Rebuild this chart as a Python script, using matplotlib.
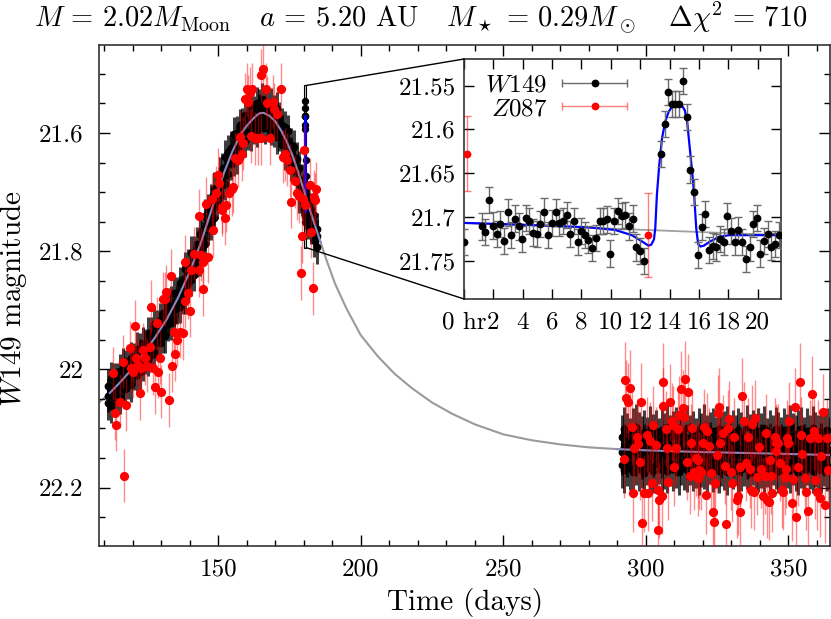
import numpy as np
import matplotlib.pyplot as plt
from matplotlib.patches import Rectangle, ConnectionPatch
from matplotlib.legend_handler import HandlerErrorbar
from matplotlib.container import ErrorbarContainer
from matplotlib.ticker import MultipleLocator

plt.rcParams['font.family'] = 'serif'
plt.rcParams['font.serif'] = ['cmr10']
plt.rcParams['mathtext.fontset'] = 'cm'
plt.rcParams['axes.formatter.use_mathtext'] = True
plt.rcParams['font.size'] = 18

# ---- model curves (main panel, days / W149 mag)
model_t = [108, 112, 116, 120, 124, 128, 132, 136, 140, 144, 148, 152, 155, 158, 160, 162,
           164, 165, 166, 168, 170, 172, 174, 176, 178, 180, 182, 184, 186, 188, 191, 195,
           200, 206, 212, 218, 225, 232, 240, 250, 260, 270, 280, 290, 300, 320, 340, 365]
model_mag = [22.057, 22.040, 22.020, 21.998, 21.972, 21.945, 21.915, 21.878, 21.835, 21.785,
             21.725, 21.668, 21.631, 21.601, 21.588, 21.577, 21.568, 21.566, 21.566, 21.571,
             21.580, 21.595, 21.614, 21.637, 21.665, 21.696, 21.727, 21.757, 21.786, 21.815,
             21.855, 21.897, 21.942, 21.978, 22.008, 22.032, 22.056, 22.075, 22.093, 22.110,
             22.120, 22.127, 22.132, 22.135, 22.137, 22.140, 22.142, 22.145]

# ---- W149 data, main panel (upper / middle / lower part of the dense band, one per day)
w149_rise_start = 111.5
w149_rise_hi = [22.028, 22.015, 22.017, 22.017, 22.002, 21.992, 21.995, 21.993, 21.981, 21.983,
                21.965, 21.967, 21.957, 21.959, 21.940, 21.940, 21.924, 21.928, 21.916, 21.904,
                21.907, 21.891, 21.887, 21.870, 21.871, 21.854, 21.852, 21.830, 21.825, 21.803,
                21.803, 21.787, 21.771, 21.766, 21.740, 21.732, 21.715, 21.694, 21.692, 21.669,
                21.661, 21.640, 21.632, 21.625, 21.601, 21.600, 21.587, 21.585, 21.570, 21.569,
                21.556, 21.565, 21.550, 21.553, 21.543, 21.550, 21.558, 21.551, 21.563, 21.559,
                21.575, 21.586, 21.590, 21.597, 21.620, 21.623, 21.644, 21.659, 21.681, 21.701,
                21.709, 21.730, 21.738, 21.763]
w149_rise_mid = [22.045, 22.034, 22.038, 22.026, 22.024, 22.024, 22.007, 22.008, 21.998, 21.999,
                 21.989, 21.976, 21.979, 21.974, 21.960, 21.951, 21.953, 21.943, 21.930, 21.933,
                 21.916, 21.913, 21.896, 21.898, 21.885, 21.870, 21.868, 21.850, 21.844, 21.824,
                 21.819, 21.810, 21.788, 21.779, 21.760, 21.753, 21.727, 21.721, 21.703, 21.685,
                 21.680, 21.660, 21.652, 21.632, 21.630, 21.614, 21.612, 21.594, 21.593, 21.582,
                 21.585, 21.573, 21.573, 21.562, 21.570, 21.566, 21.576, 21.570, 21.580, 21.580,
                 21.596, 21.597, 21.612, 21.615, 21.635, 21.643, 21.664, 21.680, 21.700, 21.710,
                 21.734, 21.743, 21.763, 21.774]
w149_rise_lo = [22.057, 22.062, 22.047, 22.047, 22.048, 22.031, 22.033, 22.022, 22.027, 22.007,
                22.009, 22.005, 21.991, 21.980, 21.984, 21.975, 21.973, 21.956, 21.955, 21.944,
                21.944, 21.924, 21.922, 21.916, 21.896, 21.894, 21.879, 21.878, 21.856, 21.848,
                21.840, 21.815, 21.814, 21.795, 21.787, 21.762, 21.753, 21.743, 21.718, 21.707,
                21.688, 21.686, 21.670, 21.651, 21.645, 21.641, 21.618, 21.618, 21.613, 21.601,
                21.603, 21.590, 21.595, 21.580, 21.585, 21.591, 21.584, 21.593, 21.595, 21.607,
                21.603, 21.620, 21.634, 21.636, 21.653, 21.657, 21.677, 21.707, 21.713, 21.734,
                21.752, 21.759, 21.781, 21.793]

w149_base_start = 291.5
w149_base_hi = [22.115, 22.101, 22.112, 22.120, 22.104, 22.097, 22.111, 22.117, 22.106, 22.118,
                22.100, 22.113, 22.107, 22.121, 22.103, 22.112, 22.098, 22.115, 22.109, 22.101,
                22.118, 22.106, 22.113, 22.099, 22.116, 22.108, 22.120, 22.103, 22.112, 22.096,
                22.115, 22.110, 22.104, 22.118, 22.101, 22.112, 22.109, 22.100, 22.119, 22.106,
                22.115, 22.103, 22.110, 22.118, 22.098, 22.113, 22.107, 22.116, 22.104, 22.112,
                22.100, 22.121, 22.106, 22.115, 22.101, 22.110, 22.118, 22.103, 22.113, 22.098,
                22.112, 22.116, 22.107, 22.101, 22.119, 22.104, 22.115, 22.100, 22.110, 22.116,
                22.106, 22.113, 22.103, 22.118]
w149_base_mid = [22.140, 22.131, 22.145, 22.136, 22.128, 22.142, 22.134, 22.147, 22.130, 22.139,
                 22.133, 22.144, 22.127, 22.138, 22.146, 22.132, 22.141, 22.129, 22.137, 22.143,
                 22.131, 22.140, 22.135, 22.147, 22.128, 22.136, 22.142, 22.130, 22.145, 22.134,
                 22.139, 22.127, 22.143, 22.136, 22.131, 22.146, 22.133, 22.140, 22.129, 22.144,
                 22.137, 22.131, 22.142, 22.135, 22.147, 22.128, 22.139, 22.134, 22.143, 22.130,
                 22.141, 22.136, 22.129, 22.145, 22.133, 22.140, 22.131, 22.146, 22.135, 22.138,
                 22.128, 22.143, 22.134, 22.141, 22.130, 22.145, 22.136, 22.132, 22.144, 22.137,
                 22.129, 22.142, 22.135, 22.140]
w149_base_lo = [22.162, 22.171, 22.159, 22.166, 22.173, 22.158, 22.168, 22.163, 22.175, 22.157,
                22.167, 22.172, 22.161, 22.156, 22.169, 22.165, 22.172, 22.160, 22.168, 22.163,
                22.174, 22.158, 22.166, 22.170, 22.157, 22.168, 22.162, 22.175, 22.161, 22.165,
                22.171, 22.156, 22.169, 22.163, 22.172, 22.160, 22.166, 22.174, 22.161, 22.165,
                22.158, 22.172, 22.168, 22.160, 22.165, 22.175, 22.157, 22.166, 22.170, 22.162,
                22.171, 22.161, 22.174, 22.158, 22.165, 22.172, 22.160, 22.167, 22.163, 22.171,
                22.157, 22.168, 22.174, 22.162, 22.169, 22.158, 22.165, 22.172, 22.161, 22.166,
                22.171, 22.160, 22.168, 22.165]

# ---- Z087 data, main panel
z087_rise_t = [113.1, 113.7, 114.3, 115.5, 116.6, 117.0, 117.8, 119.0, 119.5, 120.1,
               120.9, 121.3, 121.9, 122.5, 123.0, 123.6, 124.2, 125.1, 126.0, 126.3,
               127.1, 127.9, 128.5, 128.9, 129.5, 130.0, 130.6, 131.2, 131.8, 132.7,
               133.3, 133.8, 134.5, 134.9, 135.4, 136.5, 137.6, 138.2, 138.4, 139.4,
               140.0, 140.5, 141.7, 143.2, 143.4, 144.1, 144.7, 144.8, 145.9, 146.5,
               147.9, 148.2, 149.2, 150.0, 150.4, 151.2, 151.5, 152.3, 152.9, 153.9,
               154.7, 155.3, 155.9, 157.0, 157.6, 158.2, 158.8, 159.4, 160.0, 160.5,
               161.1, 161.5, 162.0, 162.9, 164.0, 165.0, 165.2, 165.8, 166.7, 167.2,
               168.1, 169.1, 169.5, 170.5, 172.2, 172.8, 173.4, 174.0, 175.1, 175.7,
               176.9, 177.7, 178.4, 179.2, 179.3, 179.8, 182.2, 182.7, 183.3, 183.5,
               183.9, 184.2]
z087_rise_mag = [22.007, 22.074, 22.094, 22.055, 21.987, 22.180, 22.060, 21.963, 21.998, 22.004,
                 21.927, 21.981, 21.993, 22.040, 21.998, 21.967, 21.981, 21.994, 21.962, 21.894,
                 21.998, 22.030, 21.922, 22.004, 21.980, 22.038, 21.881, 21.881, 21.869, 22.052,
                 21.842, 21.994, 21.936, 21.974, 21.950, 21.936, 21.939, 21.818, 21.885, 21.870,
                 21.901, 21.831, 21.804, 21.832, 21.740, 21.806, 21.819, 21.864, 21.720, 21.809,
                 21.712, 21.764, 21.701, 21.671, 21.684, 21.730, 21.725, 21.744, 21.722, 21.702,
                 21.695, 21.691, 21.643, 21.646, 21.607, 21.636, 21.617, 21.543, 21.526, 21.547,
                 21.533, 21.605, 21.526, 21.609, 21.609, 21.609, 21.502, 21.492, 21.526, 21.549,
                 21.609, 21.547, 21.560, 21.567, 21.526, 21.640, 21.636, 21.645, 21.663, 21.716,
                 21.682, 21.702, 21.707, 21.837, 21.775, 21.712, 21.688, 21.767, 21.863, 21.708,
                 21.713, 21.694]

z087_base_t = [292.4, 292.6, 293.2, 293.8, 294.4, 295.0, 295.5, 295.9, 296.8, 297.3,
               297.9, 298.2, 298.8, 299.4, 300.4, 300.6, 301.5, 302.0, 302.4, 303.5,
               304.1, 304.3, 304.7, 305.5, 305.9, 306.2, 307.0, 307.4, 307.9, 308.5,
               309.1, 309.4, 309.8, 310.6, 311.2, 311.7, 312.3, 312.9, 313.5, 313.7,
               314.4, 314.9, 315.4, 315.8, 316.3, 316.8, 317.6, 318.2, 318.4, 318.8,
               319.4, 320.0, 320.3, 321.1, 321.5, 322.3, 322.9, 323.5, 324.0, 324.3,
               325.0, 325.2, 325.8, 325.9, 327.0, 327.6, 328.2, 328.8, 329.3, 329.9,
               330.3, 331.1, 332.0, 332.3, 332.9, 333.2, 333.8, 334.6, 335.0, 335.8,
               336.4, 337.0, 337.3, 338.1, 338.3, 339.0, 339.7, 340.5, 341.1, 341.7,
               342.0, 342.5, 343.2, 343.4, 343.8, 344.4, 345.2, 345.5, 345.8, 346.4,
               346.9, 347.6, 348.1, 348.7, 349.0, 349.5, 349.9, 350.2, 351.1, 351.6,
               352.4, 352.8, 353.4, 354.0, 354.6, 354.9, 355.8, 356.1, 356.9, 357.5,
               358.4, 358.9, 359.4, 360.1, 360.5, 361.0, 361.6, 362.2, 362.9, 363.4,
               364.0]
z087_base_mag = [22.152, 22.018, 22.049, 22.055, 22.032, 22.097, 22.210, 22.133, 22.115, 22.126,
                 22.156, 22.055, 22.260, 22.210, 22.111, 22.209, 22.121, 22.192, 22.094, 22.128,
                 22.205, 22.272, 22.221, 22.214, 22.062, 22.021, 22.101, 22.133, 22.190, 22.056,
                 22.088, 22.094, 22.166, 22.133, 22.101, 22.077, 22.034, 22.066, 22.081, 22.017,
                 22.156, 22.039, 22.180, 22.124, 22.100, 22.173, 22.150, 22.153, 22.184, 22.171,
                 22.173, 22.124, 22.098, 22.213, 22.105, 22.130, 22.176, 22.241, 22.259, 22.192,
                 22.145, 22.074, 22.063, 22.125, 22.108, 22.163, 22.262, 22.100, 22.084, 22.173,
                 22.193, 22.114, 22.221, 22.215, 22.166, 22.242, 22.045, 22.087, 22.158, 22.114,
                 22.169, 22.204, 22.092, 22.207, 22.083, 22.182, 22.131, 22.169, 22.215, 22.180,
                 22.107, 22.221, 22.224, 22.153, 22.180, 22.210, 22.114, 22.124, 22.138, 22.124,
                 22.158, 22.204, 22.207, 22.182, 22.169, 22.117, 22.125, 22.087, 22.226, 22.186,
                 22.063, 22.250, 22.166, 22.021, 22.111, 22.143, 22.184, 22.207, 22.239, 22.117,
                 22.042, 22.105, 22.188, 22.207, 22.117, 22.218, 22.147, 22.073, 22.229, 22.117,
                 22.170]

# ---- zoom on the planetary anomaly (hours after t0)
t0 = 180.0
w149_in_hr = [0.0, 1.21, 1.44, 1.67, 1.94, 2.22, 2.47, 2.70, 2.97, 3.20,
              3.45, 3.73, 3.98, 4.20, 4.46, 4.71, 4.98, 5.20, 5.46, 5.74,
              5.99, 6.24, 6.47, 6.74, 6.99, 7.25, 7.47, 7.75, 8.00, 8.23,
              8.48, 8.73, 8.98, 9.23, 9.49, 9.74, 9.97, 10.24, 10.49, 10.74,
              10.99, 11.25, 11.50, 11.73, 11.98, 12.25, 13.42, 13.67, 13.92, 14.15,
              14.40, 14.65, 14.93, 15.18, 15.43, 15.66, 15.93, 16.18, 16.43, 16.69,
              16.94, 17.19, 17.44, 17.69, 17.94, 18.19, 18.45, 18.70, 18.95, 19.20,
              19.45, 19.68, 19.95, 20.18, 20.46, 20.71, 20.94, 21.19, 21.44]
w149_in_mag = [21.729, 21.711, 21.717, 21.681, 21.710, 21.720, 21.708, 21.728, 21.695, 21.721,
               21.702, 21.711, 21.725, 21.701, 21.705, 21.718, 21.720, 21.708, 21.694, 21.721,
               21.707, 21.695, 21.707, 21.705, 21.698, 21.720, 21.705, 21.729, 21.716, 21.721,
               21.726, 21.736, 21.724, 21.705, 21.705, 21.703, 21.742, 21.705, 21.693, 21.699,
               21.698, 21.711, 21.702, 21.735, 21.739, 21.751, 21.628, 21.594, 21.557, 21.571,
               21.571, 21.571, 21.545, 21.586, 21.646, 21.672, 21.744, 21.712, 21.697, 21.738,
               21.733, 21.735, 21.725, 21.729, 21.699, 21.716, 21.729, 21.715, 21.729, 21.748,
               21.735, 21.708, 21.701, 21.742, 21.728, 21.720, 21.734, 21.731, 21.721]
z087_in_hr = [0.23, 12.53]
z087_in_mag = [21.628, 21.721]
z087_in_err = [0.043, 0.048]

planet_hr = [0.0, 3.89, 8.46, 10.29, 11.43, 12.11, 12.57, 12.75, 12.94, 13.03, 13.14, 13.30,
             13.49, 13.71, 13.94, 14.17, 14.51, 14.81, 15.04, 15.20, 15.36, 15.54, 15.68,
             15.82, 15.95, 16.11, 16.34, 16.69, 17.37, 18.06, 19.43, 21.6]
planet_mag = [21.707, 21.709, 21.712, 21.715, 21.721, 21.728, 21.733, 21.732, 21.726, 21.713,
              21.675, 21.641, 21.610, 21.591, 21.580, 21.574, 21.571, 21.572, 21.578, 21.591,
              21.618, 21.648, 21.675, 21.713, 21.731, 21.734, 21.733, 21.729, 21.723, 21.721,
              21.721, 21.721]
pspl_hr = [0.0, 21.6]
pspl_mag = [21.707, 21.721]

title = (r'$M\,=\,2.02M_{\rm Moon}$   $a\,=\,5.20$ AU   '
         r'$M_\star\,=\,0.29M_\odot$   $\Delta\chi^2\,=\,710$')

# ---------------------------------------------------------------------------
fig = plt.figure(figsize=(8.31, 6.19), dpi=100)
ax = fig.add_axes([0.1191, 0.1179, 0.8797, 0.8094])

black_err = (0, 0, 0, 0.75)
red_err = (1, 0, 0, 0.45)

ax.plot(model_t, model_mag, color='#9a9a9a', lw=1.5, zorder=1)

for start, rows, err in [(w149_rise_start, (w149_rise_hi, w149_rise_mid, w149_rise_lo), 0.028),
                         (w149_base_start, (w149_base_hi, w149_base_mid, w149_base_lo), 0.038)]:
    tt = start + np.arange(len(rows[0]))
    for row in rows:
        ax.errorbar(tt, row, yerr=err, fmt='o', ms=4.6, mfc='k', mec='k',
                    ecolor=black_err, elinewidth=2.2, zorder=3)

# anomaly data inside the small box
ax.add_patch(Rectangle((t0, 21.5195), 21.6 / 24, 21.794 - 21.5195,
                       fc='#cfcfcf', ec='k', lw=0.8, zorder=2))
ax.plot(t0 + np.array(w149_in_hr) / 24, w149_in_mag, 'o', ms=4.3, color='k', zorder=3)
ax.plot(t0 + np.array(planet_hr) / 24, planet_mag, color='#0000ff', lw=1.5, zorder=4)

# planet model over the observing seasons
mt = np.array(model_t)
mm = np.array(model_mag)
for a, b in [(111, 186), (290, 366)]:
    sel = (mt >= a) & (mt <= b)
    ax.plot(mt[sel], mm[sel], color='#8a8ac2', lw=1.5, zorder=4)

ax.errorbar(z087_rise_t, z087_rise_mag, yerr=0.045, fmt='o', ms=5.6, mfc='red', mec='red',
            ecolor=red_err, elinewidth=1, zorder=5)
ax.errorbar(z087_base_t, z087_base_mag, yerr=0.065, fmt='o', ms=5.6, mfc='red', mec='red',
            ecolor=red_err, elinewidth=1, zorder=5)
ax.errorbar(t0 + np.array(z087_in_hr) / 24, z087_in_mag, yerr=z087_in_err, fmt='o', ms=5.6,
            mfc='red', mec='red', ecolor=red_err, elinewidth=1, zorder=5)

ax.set_xlim(108.2, 364.6)
ax.set_ylim(22.299, 21.451)
ax.set_xticks([150, 200, 250, 300, 350])
ax.set_xticklabels(['150', '200', '250', '300', '350'])
ax.set_yticks([21.6, 21.8, 22.0, 22.2])
ax.set_yticklabels(['21.6', '21.8', '22', '22.2'])
ax.xaxis.set_minor_locator(MultipleLocator(10))
ax.yaxis.set_minor_locator(MultipleLocator(0.05))
ax.tick_params(which='both', direction='in', top=True, right=True, width=1, labelsize=18)
ax.tick_params(which='major', length=8)
ax.tick_params(which='minor', length=4.3)
ax.tick_params(axis='y', pad=11)
ax.tick_params(axis='x', pad=9)
for s in ax.spines.values():
    s.set_linewidth(1.2)
    s.set_color('#333333')

# ---- inset
axin = fig.add_axes([0.5584, 0.5170, 0.3815, 0.3877])
axin.plot(pspl_hr, pspl_mag, color='#a0a0a0', lw=1.3, zorder=1)
axin.plot(planet_hr, planet_mag, color='#0000ff', lw=1.6, zorder=2)
axin.errorbar(w149_in_hr, w149_in_mag, yerr=0.015, fmt='o', ms=4.6, mfc='k', mec='k',
              ecolor='#6a6a6a', elinewidth=1, capsize=3, zorder=3)
axin.errorbar(z087_in_hr, z087_in_mag, yerr=z087_in_err, fmt='o', ms=4.6, mfc='red', mec='red',
              ecolor=(1, 0, 0, 0.5), elinewidth=1, capsize=3, zorder=3)
axin.set_xlim(0, 21.6)
axin.set_ylim(21.794, 21.5195)
axin.set_xticks(range(0, 21, 2))
axin.set_xticklabels(['0 hr'] + [str(v) for v in range(2, 21, 2)])
axin.set_yticks([21.55, 21.6, 21.65, 21.7, 21.75])
axin.set_yticklabels(['21.55', '21.6', '21.65', '21.7', '21.75'])
axin.tick_params(direction='in', top=True, right=True, length=7, width=1, labelsize=18)
axin.tick_params(axis='y', pad=6)
axin.tick_params(axis='x', pad=9)
for s in axin.spines.values():
    s.set_linewidth(1.2)
    s.set_color('#333333')

hw = axin.errorbar([np.nan], [np.nan], xerr=[1], fmt='o', ms=4.6, mfc='k', mec='k',
                   ecolor='#6a6a6a', elinewidth=1, capsize=3)
hz = axin.errorbar([np.nan], [np.nan], xerr=[1], fmt='o', ms=4.6, mfc='red', mec='red',
                   ecolor=(1, 0, 0, 0.5), elinewidth=1, capsize=3)
axin.legend([hw, hz], ['$W149$', '$Z087$'], loc='upper left', bbox_to_anchor=(0.02, 1.0),
            frameon=False, markerfirst=False, handlelength=2.6, handletextpad=0.6,
            labelspacing=0.05, fontsize=18, borderaxespad=0.2,
            handler_map={ErrorbarContainer: HandlerErrorbar(xerr_size=1.3)})

# connector lines between the small box and the inset
for ya, yb in [(21.5195, 1), (21.794, 0)]:
    con = ConnectionPatch(xyA=(t0 + 21.6 / 24, ya), coordsA=ax.transData,
                          xyB=(0, yb), coordsB=axin.transAxes, color='k', lw=1)
    fig.add_artist(con)

fig.text(0.5066, 0.971, title, ha='center', va='center', fontsize=20.5)
fig.text(0.5596, 0.026, 'Time (days)', ha='center', va='center', fontsize=21)
fig.text(0.0168, 0.517, '$W149$ magnitude', rotation=90, ha='center', va='center', fontsize=21)

fig.savefig('out.png', dpi=100)
